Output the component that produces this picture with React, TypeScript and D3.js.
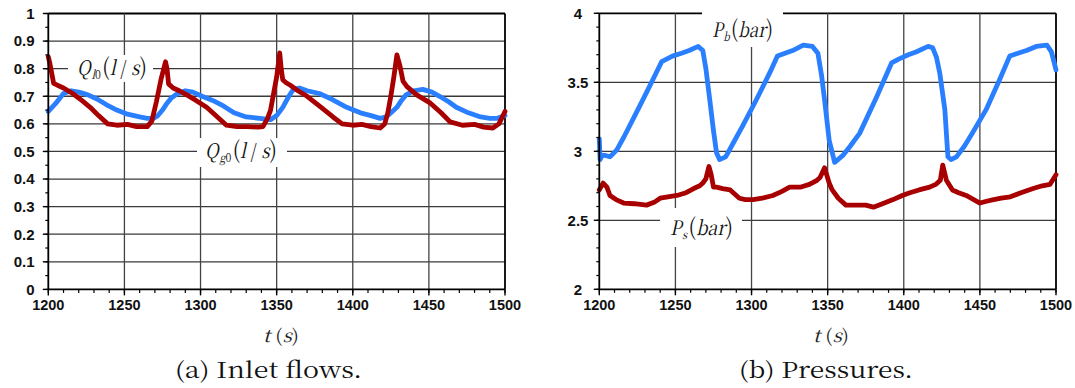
import React from "react";
import * as d3 from "d3";

// ---------- data ----------
const qlT = [1200,1201,1203.5,1206,1210,1216,1222,1227.5,1233,1239,1245,1252,1258,1265,1268,1271,1274,1277,1278,1279,1282,1286,1291,1297,1304,1310,1317,1324,1331,1338,1341,1344,1346,1348,1350,1352,1353,1354,1356,1359,1364,1370,1378,1387,1393,1400,1406,1412,1418,1421,1423,1425,1427,1429,1431,1433,1435.6,1442,1451,1458,1464,1472,1480,1486,1492,1496,1500];
const qlV = [0.843,0.82,0.747,0.74,0.73,0.71,0.685,0.66,0.63,0.60,0.595,0.598,0.59,0.59,0.61,0.68,0.76,0.825,0.80,0.745,0.73,0.72,0.705,0.685,0.66,0.63,0.595,0.59,0.59,0.588,0.59,0.62,0.65,0.71,0.77,0.857,0.80,0.76,0.75,0.74,0.72,0.70,0.665,0.625,0.60,0.595,0.598,0.59,0.585,0.60,0.64,0.70,0.77,0.85,0.81,0.755,0.735,0.705,0.675,0.64,0.607,0.595,0.598,0.588,0.585,0.60,0.645];

const qgT = [1200,1205,1210,1215,1220,1226,1232,1238,1245,1252,1260,1265,1269,1272,1275,1278,1281,1285,1290,1295,1301,1308,1315,1322,1330,1339,1346,1350,1354,1358,1361,1365,1370,1378,1386,1396,1405,1412,1418,1422,1426,1429,1432,1435,1440,1446,1452,1457,1463,1468,1476,1484,1490,1495,1500];
const qgV = [0.645,0.675,0.71,0.72,0.715,0.705,0.69,0.67,0.65,0.635,0.625,0.62,0.62,0.63,0.65,0.675,0.695,0.71,0.72,0.715,0.70,0.685,0.665,0.64,0.625,0.62,0.615,0.63,0.66,0.70,0.725,0.73,0.72,0.71,0.69,0.66,0.64,0.63,0.62,0.625,0.645,0.66,0.685,0.705,0.72,0.725,0.715,0.70,0.68,0.66,0.64,0.625,0.62,0.62,0.63];

const pbT = [1200,1200.5,1202,1204,1207,1211.5,1216,1222,1228,1233,1237,1241,1248,1254,1259,1265,1268,1270,1272.6,1275,1277,1279,1283,1288,1294,1303,1312,1317,1322,1327,1334,1340,1343.6,1346,1348,1351,1354.6,1360,1365,1371,1382,1392,1397,1403,1408,1416,1419,1421.5,1423.6,1427,1429,1431,1434.6,1440,1445,1454,1463,1469.6,1475,1480.6,1487,1494,1497,1500];
const pbV = [3.09,2.94,2.97,2.97,2.96,3.01,3.10,3.23,3.36,3.47,3.56,3.65,3.69,3.71,3.73,3.76,3.73,3.60,3.37,3.15,2.99,2.94,2.96,3.06,3.18,3.37,3.57,3.69,3.71,3.73,3.77,3.76,3.71,3.55,3.37,3.08,2.92,2.97,3.04,3.13,3.39,3.64,3.67,3.70,3.72,3.76,3.75,3.68,3.57,3.30,2.96,2.94,2.96,3.04,3.13,3.30,3.52,3.69,3.71,3.73,3.76,3.77,3.72,3.59];

const psT = [1200,1202.5,1205,1207,1211,1216,1223,1231,1236,1240,1245,1251,1257,1262,1266,1268,1270,1272,1273.5,1275,1277,1281,1286,1292,1296,1301,1307,1314,1320,1325,1332,1338,1343,1345,1348,1351,1353,1357,1362,1368,1375,1380,1386,1393,1399,1404,1410,1417,1421,1424,1425.6,1428,1432,1436,1441,1450,1455,1459,1464,1470,1477,1485,1491,1496,1500];
const psV = [2.72,2.77,2.74,2.68,2.65,2.625,2.62,2.61,2.63,2.66,2.67,2.68,2.70,2.73,2.75,2.77,2.80,2.89,2.83,2.74,2.74,2.73,2.72,2.66,2.65,2.65,2.66,2.68,2.71,2.74,2.74,2.76,2.79,2.81,2.88,2.77,2.72,2.66,2.61,2.61,2.61,2.595,2.62,2.65,2.68,2.70,2.72,2.74,2.76,2.79,2.90,2.79,2.72,2.70,2.68,2.625,2.64,2.65,2.66,2.67,2.70,2.73,2.75,2.76,2.83];

const xTicks = [1200, 1250, 1300, 1350, 1400, 1450, 1500];
const flowTicks = [0, 0.1, 0.2, 0.3, 0.4, 0.5, 0.6, 0.7, 0.8, 0.9, 1];
const flowTickLabels = ["0", "0.1", "0.2", "0.3", "0.4", "0.5", "0.6", "0.7", "0.8", "0.9", "1"];
const presTicks = [2, 2.5, 3, 3.5, 4];
const presTickLabels = ["2", "2.5", "3", "3.5", "4"];

const RED = "#a80000";
const BLUE = "#2a7fff";

type Series = { t: number[]; v: number[]; color: string };

function zip(t: number[], v: number[]) {
  return t.map((x, i) => [x, v[i]] as [number, number]);
}

const SANS: React.CSSProperties = { fontFamily: "'Liberation Sans'", fontWeight: "bold" };
const SERIF = "'Noto Serif CJK JP'";
const it: React.CSSProperties = { fontStyle: "italic" };

function Panel(props: {
  x0: number; x1: number; y0: number; y1: number;
  yDomain: [number, number]; yTicks: number[]; yLabels: string[];
  yMinorStep: number; yLabelX: number; yLabelAnchor: string;
  series: Series[]; children?: React.ReactNode;
}) {
  const { x0, x1, y0, y1, yDomain, yTicks, yLabels, yMinorStep, yLabelX, yLabelAnchor, series } = props;
  const x = d3.scaleLinear().domain([1200, 1500]).range([x0, x1]);
  const y = d3.scaleLinear().domain(yDomain).range([y0, y1]);
  const xMinor = d3.range(1200, 1500.01, 10);
  const nMinor = Math.round((yDomain[1] - yDomain[0]) / yMinorStep);
  const yMinor = d3.range(0, nMinor + 1).map((i) => yDomain[0] + i * yMinorStep);
  const line = d3.line<[number, number]>().x((d) => x(d[0])).y((d) => y(d[1]));
  return (
    <g>
      {yTicks.slice(1).map((v, i) => (
        <line key={"h" + i} x1={x0} x2={x1} y1={y(v)} y2={y(v)}
          stroke={i === yTicks.length - 2 ? "#000" : "#3a3a3a"} strokeWidth={i === yTicks.length - 2 ? 1.8 : 1.3} />
      ))}
      {xTicks.slice(1).map((v, i) => (
        <line key={"v" + i} x1={x(v)} x2={x(v)} y1={y1} y2={y0}
          stroke={i === xTicks.length - 2 ? "#000" : "#444"} strokeWidth={i === xTicks.length - 2 ? 1.8 : 1.3} />
      ))}
      {series.map((s, i) => (
        <path key={"s" + i} d={line(zip(s.t, s.v)) || ""} fill="none" stroke={s.color}
          strokeWidth={4.8} strokeLinejoin="round" strokeLinecap="round" />
      ))}
      <line x1={x0} x2={x0} y1={y1} y2={y0} stroke="#000" strokeWidth={1.8} />
      <line x1={x0} x2={x1} y1={y0} y2={y0} stroke="#000" strokeWidth={1.8} />
      {yMinor.map((v, i) => (
        <line key={"ym" + i} x1={x0 - 3} x2={x0} y1={y(v)} y2={y(v)} stroke="#000" strokeWidth={1.2} />
      ))}
      {yTicks.map((v, i) => (
        <line key={"yt" + i} x1={x0 - 5.5} x2={x0} y1={y(v)} y2={y(v)} stroke="#000" strokeWidth={1.4} />
      ))}
      {xMinor.map((v, i) => (
        <line key={"xm" + i} x1={x(v)} x2={x(v)} y1={y0} y2={y0 + 3.5} stroke="#000" strokeWidth={1.2} />
      ))}
      {xTicks.map((v, i) => (
        <line key={"xt" + i} x1={x(v)} x2={x(v)} y1={y0} y2={y0 + 6} stroke="#000" strokeWidth={1.4} />
      ))}
      {yTicks.map((v, i) => (
        <text key={"yl" + i} x={yLabelX} y={y(v)} dy="0.36em" textAnchor={yLabelAnchor}
          style={{ ...SANS, fontSize: 15 }} fill="#111">
          {yLabels[i]}
        </text>
      ))}
      {xTicks.map((v, i) => (
        <text key={"xl" + i} x={x(v)} y={y0 + 21} textAnchor="middle"
          style={{ ...SANS, fontSize: 14.5 }} fill="#111">
          {String(v)}
        </text>
      ))}
      {props.children}
    </g>
  );
}

function TLabel({ x, y }: { x: number; y: number }) {
  return (
    <text x={x} y={y} textLength={36} lengthAdjust="spacingAndGlyphs"
      style={{ fontFamily: SERIF, fontSize: 18 }} fill="#222">
      <tspan style={it}>t</tspan>
      <tspan> (</tspan>
      <tspan style={it}>s</tspan>
      <tspan>)</tspan>
    </text>
  );
}

function FlowLabel({ x, y, sub, w }: { x: number; y: number; sub: string; w: number }) {
  return (
    <text x={x} y={y} textLength={w} lengthAdjust="spacingAndGlyphs"
      style={{ fontFamily: SERIF, fontSize: 20 }} fill="#111">
      <tspan style={it}>Q</tspan>
      <tspan style={{ ...it, fontSize: 12 }} dy={4} dx={1}>{sub}</tspan>
      <tspan style={{ fontSize: 12 }}>0</tspan>
      <tspan style={{ fontSize: 23 }} dy={-4} dx={1.5}>(</tspan>
      <tspan style={it}>l</tspan>
      <tspan> / </tspan>
      <tspan style={it}>s</tspan>
      <tspan style={{ fontSize: 23 }}>)</tspan>
    </text>
  );
}

function PresLabel({ x, y, sub, w }: { x: number; y: number; sub: string; w: number }) {
  return (
    <text x={x} y={y} textLength={w} lengthAdjust="spacingAndGlyphs"
      style={{ fontFamily: SERIF, fontSize: 20 }} fill="#111">
      <tspan style={it}>P</tspan>
      <tspan style={{ ...it, fontSize: 12 }} dy={4} dx={0.5}>{sub}</tspan>
      <tspan style={{ fontSize: 23 }} dy={-4} dx={1.5}>(</tspan>
      <tspan style={it}>bar</tspan>
      <tspan style={{ fontSize: 23 }}>)</tspan>
    </text>
  );
}

export default function App() {
  return (
    <svg width={1075} height={388} style={{ position: "absolute", left: 0, top: 0, background: "#fff" }}>
      <rect x={0} y={0} width={1075} height={388} fill="#fff" />
      <Panel x0={48.3} x1={505} y0={289.4} y1={13.5} yDomain={[0, 1]} yTicks={flowTicks}
        yLabels={flowTickLabels} yMinorStep={0.05} yLabelX={34.5} yLabelAnchor="end"
        series={[{ t: qgT, v: qgV, color: BLUE }, { t: qlT, v: qlV, color: RED }]}>
        <rect x={68} y={55} width={85} height={27} fill="#fff" />
        <FlowLabel x={77} y={75} sub="l" w={70} />
        <rect x={197} y={138} width={90} height={29} fill="#fff" />
        <FlowLabel x={205} y={158} sub="g" w={72} />
      </Panel>
      <Panel x0={599.3} x1={1056} y0={289.3} y1={13.3} yDomain={[2, 4]} yTicks={presTicks}
        yLabels={presTickLabels} yMinorStep={0.1} yLabelX={578} yLabelAnchor="middle"
        series={[{ t: pbT, v: pbV, color: BLUE }, { t: psT, v: psV, color: RED }]}>
        <rect x={702} y={5} width={81} height={42} fill="#fff" />
        <PresLabel x={712} y={37} sub="b" w={61} />
        <rect x={660} y={208} width={82} height={39} fill="#fff" />
        <PresLabel x={670} y={235} sub="s" w={63} />
      </Panel>
      <TLabel x={263} y={342} />
      <TLabel x={813} y={342} />
      <text x={175} y={378} textLength={187} lengthAdjust="spacingAndGlyphs"
        style={{ fontFamily: SERIF, fontSize: 22 }} fill="#111">(a) Inlet flows.</text>
      <text x={739} y={378} textLength={174} lengthAdjust="spacingAndGlyphs"
        style={{ fontFamily: SERIF, fontSize: 22 }} fill="#111">(b) Pressures.</text>
    </svg>
  );
}
